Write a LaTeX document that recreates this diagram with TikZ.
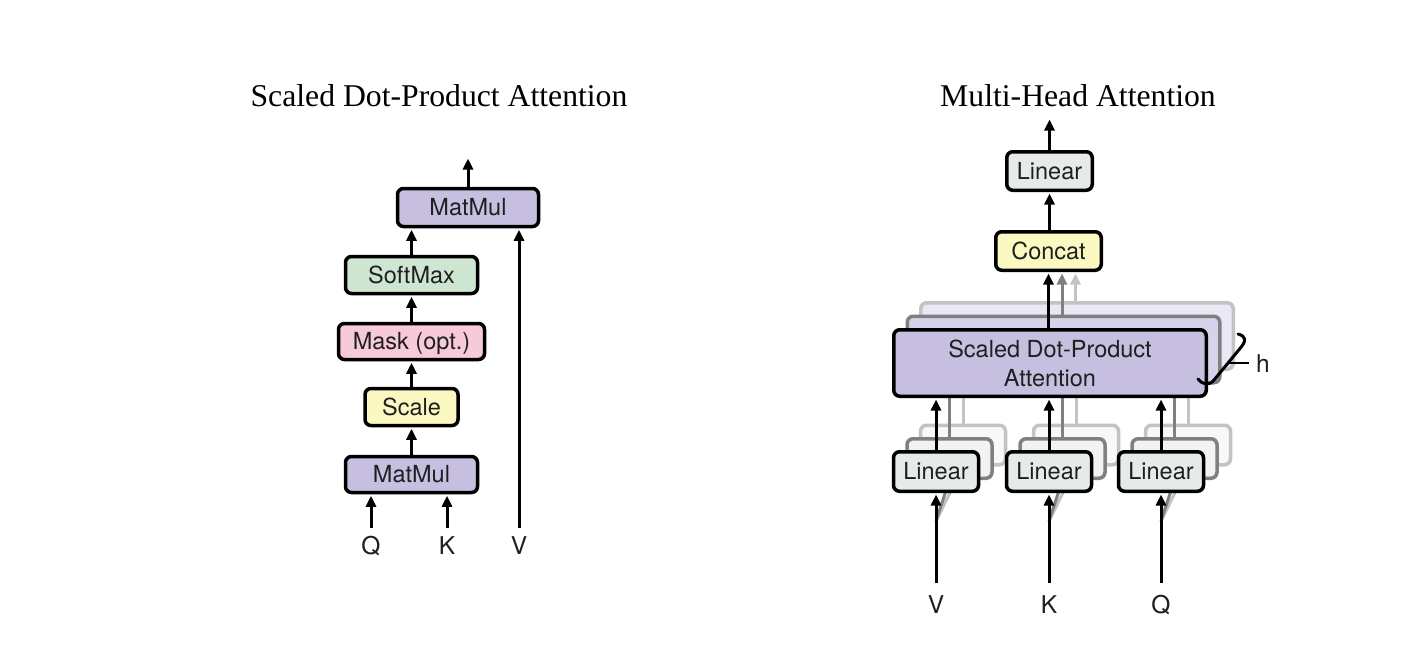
\documentclass[tikz,border=0pt]{standalone}
\usepackage{fontspec}
\setmainfont{Liberation Serif}
\newfontfamily\diagfont{TeX Gyre Heros}
\usetikzlibrary{arrows.meta}
\definecolor{cpurple}{RGB}{198,191,223}
\definecolor{cpurpleB}{RGB}{216,211,234}
\definecolor{cpurpleC}{RGB}{234,232,244}
\definecolor{cgreen}{RGB}{206,230,209}
\definecolor{cpink}{RGB}{246,202,219}
\definecolor{cyellow}{RGB}{252,248,194}
\definecolor{clin}{RGB}{230,235,233}
\definecolor{clinB}{RGB}{240,243,242}
\definecolor{clinC}{RGB}{247,248,248}
\definecolor{gmid}{RGB}{128,128,128}
\definecolor{glight}{RGB}{195,195,195}
\newcommand\boxfnt{\diagfont\fontsize{23.5}{29}\selectfont}
\newcommand\lblfnt{\diagfont\fontsize{24.5}{29}\selectfont}
\newcommand\ttlfnt{\fontsize{31.7}{38}\selectfont}
\begin{document}
\begin{tikzpicture}[x=1pt,y=-1pt,
  box/.style={draw=black, line width=3.5pt, rounded corners=6pt, inner sep=0pt, align=center, text=black!88, font=\boxfnt},
  capc/.style={text height=16.8pt, text depth=0pt},
  shB/.style={draw=gmid, line width=3.5pt, rounded corners=6pt, inner sep=0pt},
  shC/.style={draw=glight, line width=3.5pt, rounded corners=6pt, inner sep=0pt},
  arr/.style={line width=3pt, shorten >=1.5pt, -{Triangle[length=11pt,width=10pt]}},
  arrB/.style={arr, draw=gmid, fill=gmid},
  arrC/.style={arr, draw=glight, fill=glight},
  lbl/.style={font=\lblfnt, anchor=base, inner sep=0pt, text=black!88},
  ttl/.style={font=\ttlfnt, anchor=base, inner sep=0pt},
  linbox/.style={minimum width=85pt, minimum height=39.5pt},
  attnbox/.style={minimum width=312.5pt, minimum height=66.5pt}
]
\useasboundingbox[fill=white] (0,0) rectangle (1407,669);

% titles
\node[ttl] (t1) at (439,106) {Scaled Dot-Product Attention};
\node[ttl] (t2) at (1078,106) {Multi-Head Attention};

% ---------- left: scaled dot-product attention ----------
\node[box,capc,fill=cpurple,minimum width=141pt,minimum height=38pt] (mmt) at (468,207.5) {MatMul};
\node[box,capc,fill=cgreen,minimum width=132pt,minimum height=37pt] (sm) at (411.5,275) {SoftMax};
\node[box,capc,fill=cpink,minimum width=146pt,minimum height=36pt] (mask) at (411.5,341.5) {Mask (opt.)};
\node[box,capc,fill=cyellow,minimum width=93pt,minimum height=37pt] (scale) at (411.5,407) {Scale};
\node[box,capc,fill=cpurple,minimum width=132pt,minimum height=36pt] (mmb) at (411.5,474.5) {MatMul};

\coordinate (sdpout) at (468,157);
\coordinate (qin) at (371,528);
\coordinate (kin) at (447,528);
\coordinate (vin) at (519,528);

\draw[arr] (mmt.north) -- (sdpout);
\draw[arr] (sm.north) -- (sm.north |- mmt.south);
\draw[arr] (mask.north) -- (sm.south);
\draw[arr] (scale.north) -- (mask.south);
\draw[arr] (mmb.north) -- (scale.south);
\draw[arr] (qin) -- (qin |- mmb.south);
\draw[arr] (kin) -- (kin |- mmb.south);
\draw[arr] (vin) -- (vin |- mmt.south);

\node[lbl] (lq) at (371,554) {Q};
\node[lbl] (lk) at (447,554) {K};
\node[lbl] (lv) at (519,554) {V};

% ---------- right: multi-head attention ----------
% farthest shadow layer
\node[shC,fill=cpurpleC,attnbox] (attnC) at (1077,336) {};
\node[shC,fill=clinC,linbox] (lvC) at (963,445) {};
\node[shC,fill=clinC,linbox] (lkC) at (1076,445) {};
\node[shC,fill=clinC,linbox] (lqC) at (1188,445) {};
\draw[arrC] (lvC.north) -- (lvC.north |- attnC.south);
\draw[arrC] (lkC.north) -- (lkC.north |- attnC.south);
\draw[arrC] (lqC.north) -- (lqC.north |- attnC.south);

% middle shadow layer
\node[shB,fill=cpurpleB,attnbox] (attnB) at (1063.5,349.5) {};
\node[shB,fill=clinB,linbox] (lvB) at (949.5,458.5) {};
\node[shB,fill=clinB,linbox] (lkB) at (1062.5,458.5) {};
\node[shB,fill=clinB,linbox] (lqB) at (1174.5,458.5) {};
\draw[arrB] (lvB.north) -- (lvB.north |- attnB.south);
\draw[arrB] (lkB.north) -- (lkB.north |- attnB.south);
\draw[arrB] (lqB.north) -- (lqB.north |- attnB.south);

% shadow inputs
\coordinate (vfan) at (936,521);
\coordinate (kfan) at (1049,521);
\coordinate (qfan) at (1161,521);
\draw[arrC] (vfan) -- (lvC.south);
\draw[arrC] (kfan) -- (lkC.south);
\draw[arrC] (qfan) -- (lqC.south);
\draw[arrB] (vfan) -- (lvB.south);
\draw[arrB] (kfan) -- (lkB.south);
\draw[arrB] (qfan) -- (lqB.south);

% main layer
\node[box,fill=cpurple,attnbox] (attn) at (1050,363) {Scaled Dot-Product\\Attention};
\node[box,capc,fill=clin,linbox] (linv) at (936,471.5) {Linear};
\node[box,capc,fill=clin,linbox] (link) at (1049,471.5) {Linear};
\node[box,capc,fill=clin,linbox] (linq) at (1161,471.5) {Linear};
\node[box,capc,fill=cyellow,minimum width=105.5pt,minimum height=38.5pt] (concat) at (1048.5,251) {Concat};
\node[box,capc,fill=clin,minimum width=85.5pt,minimum height=38.5pt] (lintop) at (1049.5,171) {Linear};

\coordinate (mhout) at (1049.5,118);
\draw[arr] (lintop.north) -- (mhout);
\draw[arr] (concat.north -| lintop.south) -- (lintop.south);
\draw[arrC] ([xshift=27pt]concat.south |- attnC.north) -- ([xshift=27pt]concat.south);
\draw[arrB] ([xshift=13.5pt]concat.south |- attnB.north) -- ([xshift=13.5pt]concat.south);
\draw[arr] (concat.south |- attn.north) -- (concat.south);

\draw[arr] (linv.north) -- (linv.north |- attn.south);
\draw[arr] (link.north) -- (link.north |- attn.south);
\draw[arr] (linq.north) -- (linq.north |- attn.south);

\coordinate (vin2) at (936,583);
\coordinate (kin2) at (1049,583);
\coordinate (qin2) at (1161,583);
\draw[arr] (vin2) -- (linv.south);
\draw[arr] (kin2) -- (link.south);
\draw[arr] (qin2) -- (linq.south);

\node[lbl] (rv) at (936,613) {V};
\node[lbl] (rk) at (1049,613) {K};
\node[lbl] (rq) at (1161,613) {Q};

% h bracket
\draw[line width=3pt, line cap=round] (1238,334) .. controls (1246,336) and (1246,341) .. (1242,346) -- (1214,380) .. controls (1209,386) and (1203,385) .. (1198,379);
\coordinate (htick) at (1228,363);
\coordinate (htickend) at (1249,363);
\node[lbl] (hl) at (1263,372) {h};
\draw[line width=2pt] (htick) -- (htickend);
\end{tikzpicture}
\end{document}
